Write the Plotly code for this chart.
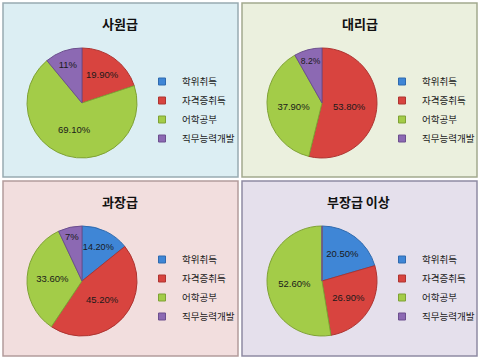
import plotly.graph_objects as go

W, H = 480, 359

categories = ["학위취득", "자격증취득", "어학공부", "직무능력개발"]
titles = ["사원급", "대리급", "과장급", "부장급 이상"]

vals_sawon = [0, 19.9, 69.1, 11]
vals_daeri = [0, 53.8, 37.9, 8.2]
vals_gwajang = [14.2, 45.2, 33.6, 7]
vals_bujang = [20.5, 26.9, 52.6, 0]

labels_sawon = ["", "19.90%", "69.10%", "11%"]
labels_daeri = ["", "53.80%", "37.90%", "8.2%"]
labels_gwajang = ["14.20%", "45.20%", "33.60%", "7%"]
labels_bujang = ["20.50%", "26.90%", "52.60%", ""]

slice_colors = ["#3F86D6", "#D8443F", "#A3CC48", "#8C69B3"]
edge_colors = ["#2F6AAE", "#AE3431", "#7FA234", "#6C4F8E"]

panel_fill = ["#DCEEF3", "#EBF0DE", "#F2DEDE", "#E5E0EC"]
panel_line = ["#98AAB1", "#A3A98E", "#B39C9C", "#8F8AA2"]

# panel boxes in pixels (x0, y0, x1, y1) from top-left
panels = [(3, 3, 238, 177), (242, 3, 477, 177), (3, 181, 238, 356), (242, 181, 477, 356)]
pie_centers = [(82, 103), (322, 103), (82, 281), (322, 281)]
R = 55
title_pos = [(120, 23), (360, 23), (120, 201), (358, 201)]
legend_pos = [(142, 67), (382, 67), (142, 245), (382, 245)]

data = [
    (vals_sawon, labels_sawon),
    (vals_daeri, labels_daeri),
    (vals_gwajang, labels_gwajang),
    (vals_bujang, labels_bujang),
]

def px(x):
    return x / W

def py(y):
    return 1 - y / H

fig = go.Figure()
legend_names = ["legend", "legend2", "legend3", "legend4"]
for i, (vals, labs) in enumerate(data):
    cx, cy = pie_centers[i]
    fig.add_trace(go.Pie(
        labels=categories,
        values=vals,
        text=labs,
        textinfo="text",
        textposition="inside",
        insidetextorientation="horizontal",
        textfont=dict(family="Liberation Sans, Arial", size=9.5, color="#1A1A1A"),
        sort=False,
        direction="clockwise",
        rotation=0,
        marker=dict(colors=slice_colors, line=dict(color=edge_colors, width=1)),
        domain=dict(x=[px(cx - R), px(cx + R)], y=[py(cy + R), py(cy - R)]),
        hoverinfo="label+text",
        showlegend=False,
    ))
    # legend entries for this panel
    for k, cat in enumerate(categories):
        fig.add_trace(go.Scatter(
            x=[None], y=[None], mode="markers", name=cat,
            marker=dict(symbol="square", size=7, color=slice_colors[k],
                        line=dict(color=edge_colors[k], width=1)),
            legend=legend_names[i], showlegend=True, hoverinfo="skip",
        ))

shapes = []
for i, (x0, y0, x1, y1) in enumerate(panels):
    shapes.append(dict(type="rect", xref="paper", yref="paper",
                       x0=px(x0), x1=px(x1), y0=py(y1), y1=py(y0),
                       fillcolor=panel_fill[i], line=dict(color=panel_line[i], width=1.5),
                       layer="below"))

annotations = []
for i, t in enumerate(titles):
    tx, ty = title_pos[i]
    annotations.append(dict(text="<b>" + t + "</b>", x=px(tx), y=py(ty), xref="paper", yref="paper",
                            showarrow=False, xanchor="center", yanchor="middle",
                            font=dict(family="Noto Sans CJK KR", size=13, color="#111111")))

layout = dict(
    width=W, height=H,
    margin=dict(l=0, r=0, t=0, b=0, autoexpand=False),
    paper_bgcolor="white",
    plot_bgcolor="rgba(0,0,0,0)",
    xaxis=dict(visible=False),
    yaxis=dict(visible=False),
    shapes=shapes,
    annotations=annotations,
    showlegend=True,
)
for i, name in enumerate(legend_names):
    lx, ly = legend_pos[i]
    layout[name] = dict(x=px(lx), y=py(ly), xanchor="left", yanchor="top",
                        bgcolor="rgba(0,0,0,0)", borderwidth=0, itemwidth=30,
                        font=dict(family="Noto Sans CJK KR", size=9.5, color="#1A1A1A"),
                        itemclick=False, itemdoubleclick=False)
fig.update_layout(**layout)

fig.write_html("out.html")
